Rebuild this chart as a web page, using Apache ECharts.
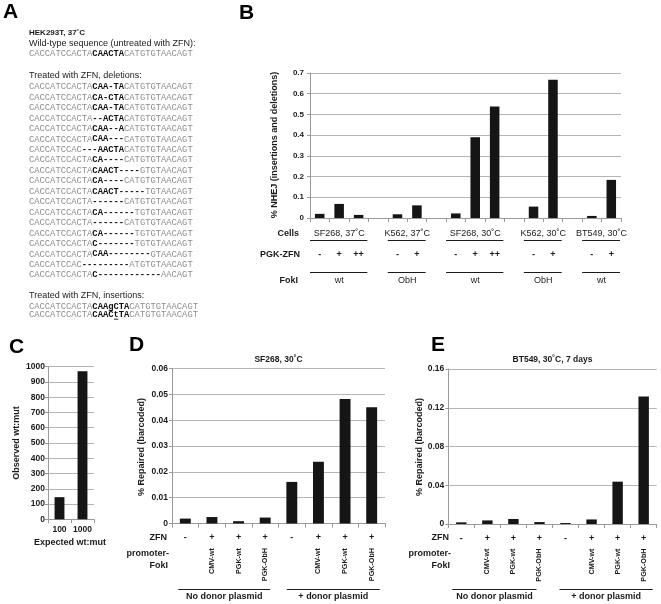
<!DOCTYPE html>
<html><head><meta charset="utf-8">
<script src="https://cdn.jsdelivr.net/npm/echarts@6/dist/echarts.min.js"></script>
<style>html,body{margin:0;padding:0;background:#fff}#c{width:661px;height:604px}</style>
</head><body><div id="c"></div><script>
// ---------- Panel A data ----------
const aHeader = 'HEK293T, 37˚C';
const aWtTitle = 'Wild-type sequence (untreated with ZFN):';
const aWtSeq = ['CACCATCCACTA', 'CAACTA', 'CATGTGTAACAGT'];
const aDelTitle = 'Treated with ZFN, deletions:';
const aDeletions = [
  ['CACCATCCACTA', 'CAA-TA', 'CATGTGTAACAGT'],
  ['CACCATCCACTA', 'CA-CTA', 'CATGTGTAACAGT'],
  ['CACCATCCACTA', 'CAA-TA', 'CATGTGTAACAGT'],
  ['CACCATCCACTA', '--ACTA', 'CATGTGTAACAGT'],
  ['CACCATCCACTA', 'CAA--A', 'CATGTGTAACAGT'],
  ['CACCATCCACTA', 'CAA---', 'CATGTGTAACAGT'],
  ['CACCATCCAC', '---AACTA', 'CATGTGTAACAGT'],
  ['CACCATCCACTA', 'CA----', 'CATGTGTAACAGT'],
  ['CACCATCCACTA', 'CAACT----', 'GTGTAACAGT'],
  ['CACCATCCACTA', 'CA----', 'CATGTGTAACAGT'],
  ['CACCATCCACTA', 'CAACT-----', 'TGTAACAGT'],
  ['CACCATCCACTA', '------', 'CATGTGTAACAGT'],
  ['CACCATCCACTA', 'CA------', 'TGTGTAACAGT'],
  ['CACCATCCACTA', '------', 'CATGTGTAACAGT'],
  ['CACCATCCACTA', 'CA------', 'TGTGTAACAGT'],
  ['CACCATCCACTA', 'C-------', 'TGTGTAACAGT'],
  ['CACCATCCACTA', 'CAA--------', 'GTAACAGT'],
  ['CACCATCCAC', '---------', 'ATGTGTAACAGT'],
  ['CACCATCCACTA', 'C------------', 'AACAGT']
];
const aInsTitle = 'Treated with ZFN, insertions:';
const aInsertions = [
  ['CACCATCCACTA', 'CAAgCTA', 'CATGTGTAACAGT'],
  ['CACCATCCACTA', 'CAACtTA', 'CATGTGTAACAGT']
];

// ---------- Panel B data ----------
const bZfn  = ['-', '+', '++', '', '-', '+', '', '-', '+', '++', '', '-', '+', '', '-', '+'];
const bNhej = [0.020, 0.068, 0.015, null, 0.018, 0.061, null, 0.022, 0.390, 0.538, null, 0.055, 0.668, null, 0.010, 0.184];
const bCells = ['SF268, 37˚C', 'K562, 37˚C', 'SF268, 30˚C', 'K562, 30˚C', 'BT549, 30˚C'];
const bFokI  = ['wt', 'ObH', 'wt', 'ObH', 'wt'];
const bSpans = [[0, 2], [4, 5], [7, 9], [11, 12], [14, 15]];
const bYName = '% NHEJ (insertions and deletions)';

// ---------- Panel C data ----------
const cExpected = ['100', '1000'];
const cObserved = [145, 970];

// ---------- Panel D data ----------
const dTitle = 'SF268, 30˚C';
const dZfn = ['-', '+', '+', '+', '-', '+', '+', '+'];
const dPromoter = ['', 'CMV-wt', 'PGK-wt', 'PGK-ObH', '', 'CMV-wt', 'PGK-wt', 'PGK-ObH'];
const dRepaired = [0.0019, 0.0025, 0.0009, 0.0023, 0.0161, 0.0239, 0.0482, 0.0450];
const dDonor = ['No donor plasmid', '+ donor plasmid'];
const dSpans = [[0, 3], [4, 7]];

// ---------- Panel E data ----------
const eTitle = 'BT549, 30˚C, 7 days';
const eZfn = ['-', '+', '+', '+', '-', '+', '+', '+'];
const ePromoter = ['', 'CMV-wt', 'PGK-wt', 'PGK-ObH', '', 'CMV-wt', 'PGK-wt', 'PGK-ObH'];
const eRepaired = [0.0017, 0.0037, 0.0052, 0.0020, 0.0010, 0.0047, 0.0437, 0.1315];
const eDonor = ['No donor plasmid', '+ donor plasmid'];
const eSpans = [[0, 3], [4, 7]];
const repYName = '% Repaired (barcoded)';

// ---------- helpers ----------
const SANS = '"Liberation Sans", Arial, Helvetica, sans-serif';
const MONO = '"Liberation Mono", "Courier New", monospace';
const INK = '#1a1a1a';
const GRID_C = '#b4b4b4';
const AXIS_C = '#9a9a9a';
const BAR_C = '#151515';

function T(x, y, text, o) {
  o = o || {};
  const a = o.a || 'left';
  return {
    type: 'text', x: x, y: y, rotation: o.rot || 0, silent: true, z: 10,
    style: {
      text: text, font: (o.w || 'normal') + ' ' + (o.s || 9) + 'px ' + (o.f || SANS),
      fill: o.c || INK, align: a, textAlign: a,
      verticalAlign: 'middle', textVerticalAlign: 'middle'
    }
  };
}
function L(x1, y1, x2, y2, c, w) {
  return { type: 'line', silent: true, z: 10, shape: { x1: x1, y1: y1, x2: x2, y2: y2 },
    style: { stroke: c || INK, lineWidth: w || 1 } };
}

const els = [];
// panel letters
els.push(T(3, 12, 'A', { w: 'bold', s: 21, c: '#000' }));
els.push(T(239, 13, 'B', { w: 'bold', s: 21, c: '#000' }));
els.push(T(9, 347, 'C', { w: 'bold', s: 21, c: '#000' }));
els.push(T(129, 345, 'D', { w: 'bold', s: 21, c: '#000' }));
els.push(T(431, 345, 'E', { w: 'bold', s: 21, c: '#000' }));

// ---------- Panel A ----------
const AX = 29, FS = 8.8, CW = FS * 0.6;
function seqLine(parts, y) {
  let idx = 0;
  parts.forEach(function (p, k) {
    const bold = k === 1;
    els.push(T(AX + idx * CW, y, p, { w: bold ? 'bold' : 'normal', s: FS, f: MONO, c: bold ? '#111' : '#8e8e8e' }));
    for (let j = 0; j < p.length; j++) {
      if (p[j] !== p[j].toUpperCase()) {
        const x0 = AX + (idx + j) * CW;
        els.push(L(x0 + 0.5, y + 4.2, x0 + CW - 0.5, y + 4.2, '#111', 0.9));
      }
    }
    idx += p.length;
  });
}
els.push(T(AX, 33, aHeader, { w: 'bold', s: 8 }));
els.push(T(AX, 43.5, aWtTitle, { s: 9 }));
seqLine(aWtSeq, 54);
els.push(T(AX, 76, aDelTitle, { s: 9 }));
aDeletions.forEach(function (p, i) { seqLine(p, 87 + i * 10.45); });
els.push(T(AX, 296, aInsTitle, { s: 9 }));
aInsertions.forEach(function (p, i) { seqLine(p, 306.5 + i * 8.5); });

// ---------- Panel B table ----------
const B = { left: 310, top: 73, width: 311, height: 145 };
const bSlot = B.width / bZfn.length;
const bx = function (i) { return B.left + (i + 0.5) * bSlot; };
els.push(T(299, 234, 'Cells', { w: 'bold', a: 'right' }));
els.push(T(300, 255, 'PGK-ZFN', { w: 'bold', a: 'right' }));
els.push(T(298, 281, 'FokI', { w: 'bold', a: 'right' }));
bSpans.forEach(function (s, k) {
  const x1 = B.left + s[0] * bSlot, x2 = B.left + (s[1] + 1) * bSlot;
  const cx = (bx(s[0]) + bx(s[1])) / 2;
  els.push(T(cx, 233.5, bCells[k], { a: 'center' }));
  els.push(L(x1, 240.5, x2 - 1, 240.5));
  els.push(L(x1, 272.5, x2 - 1, 272.5));
  els.push(T(cx, 281, bFokI[k], { a: 'center' }));
});
els.push(T(275, 145, bYName, { w: 'bold', a: 'center', rot: Math.PI / 2 }));

// ---------- Panel C labels ----------
const C = { left: 48, top: 366.7, width: 46, height: 152.6 };
els.push(T(17, 443, 'Observed wt:mut', { w: 'bold', a: 'center', rot: Math.PI / 2 }));
els.push(T(70, 543, 'Expected wt:mut', { w: 'bold', a: 'center' }));

// ---------- Panels D & E labels ----------
const D = { left: 172, top: 368.5, width: 213, height: 155 };
const E = { left: 448.3, top: 369, width: 208.4, height: 155 };
function repPanel(G, title, donor, spans, n, nameX, hdrRight, insets) {
  const slot = G.width / n;
  const cx = function (i) { return G.left + (i + 0.5) * slot; };
  els.push(T(G.left + G.width / 2, 360, title, { w: 'bold', s: 8.5, a: 'center' }));
  els.push(T(nameX, 447, repYName, { w: 'bold', a: 'center', rot: Math.PI / 2 }));
  els.push(T(hdrRight, 538, 'ZFN', { w: 'bold', a: 'right' }));
  els.push(T(hdrRight + 2, 554, 'promoter-', { w: 'bold', a: 'right' }));
  els.push(T(hdrRight + 1, 565.5, 'FokI', { w: 'bold', a: 'right' }));
  spans.forEach(function (s, k) {
    const x1 = cx(s[0]) + insets[k][0], x2 = cx(s[1]) + insets[k][1];
    els.push(L(x1, 589.5, x2, 589.5));
    els.push(T((x1 + x2) / 2, 596.5, donor[k], { w: 'bold', a: 'center' }));
  });
}
repPanel(D, dTitle, dDonor, dSpans, dZfn.length, 141.5, 167, [[-7, 5], [-5, 8]]);
repPanel(E, eTitle, eDonor, eSpans, eZfn.length, 420, 449, [[-9, -3], [-6, 9]]);

// ---------- axes ----------
function yAx(gi, max, interval, margin, fs) {
  return {
    type: 'value', gridIndex: gi, min: 0, max: max, interval: interval,
    axisLine: { show: true, lineStyle: { color: AXIS_C, width: 1 } },
    axisTick: { show: true, length: 3, lineStyle: { color: AXIS_C } },
    splitLine: { show: true, lineStyle: { color: GRID_C, width: 1 } },
    axisLabel: { margin: margin, fontSize: fs || 8, fontWeight: 'bold', fontFamily: SANS, color: INK,
      formatter: function (v) { return String(+v.toFixed(4)); } }
  };
}
function xAx(gi, data, margin, fs) {
  return {
    type: 'category', gridIndex: gi, data: data, position: 'bottom',
    axisLine: { show: true, lineStyle: { color: AXIS_C, width: 1 } },
    axisTick: { show: true, interval: 0, length: 4, lineStyle: { color: AXIS_C } },
    splitLine: { show: false },
    axisLabel: { interval: 0, margin: margin, fontSize: fs || 9, fontWeight: 'bold', fontFamily: SANS, color: INK }
  };
}
function rotAx(gi, data) {
  return {
    type: 'category', gridIndex: gi, data: data, position: 'bottom',
    axisLine: { show: false }, axisTick: { show: false }, splitLine: { show: false },
    axisLabel: { interval: 0, rotate: 90, margin: 24.5, fontSize: 7.2, fontWeight: 'bold', fontFamily: SANS, color: INK }
  };
}
function g(G) { return Object.assign({ containLabel: false, outerBoundsMode: 'none', show: false }, G); }
function bar(xi, yi, data, w) {
  return { type: 'bar', xAxisIndex: xi, yAxisIndex: yi, data: data, barWidth: w,
    itemStyle: { color: BAR_C }, silent: true, animation: false };
}

const option = {
  animation: false,
  backgroundColor: '#fff',
  grid: [g(B), g(C), g(D), g(E)],
  xAxis: [
    xAx(0, bZfn, 32.5),
    xAx(1, cExpected, 5.5, 8.5),
    xAx(2, dZfn, 10),
    rotAx(2, dPromoter),
    xAx(3, eZfn, 10),
    rotAx(3, ePromoter)
  ],
  yAxis: [yAx(0, 0.7, 0.1, 6, 8), yAx(1, 1000, 100, 3, 8.5), yAx(2, 0.06, 0.01, 4, 8.5), yAx(3, 0.16, 0.04, 4, 8.5)],
  series: [
    bar(0, 0, bNhej, '49%'),
    bar(1, 1, cObserved, '43%'),
    bar(2, 2, dRepaired, '41%'),
    bar(4, 3, eRepaired, '40%')
  ],
  graphic: { elements: els }
};
const chart = echarts.init(document.getElementById('c'), null, { renderer: 'canvas' });
chart.setOption(option);
</script></body></html>
